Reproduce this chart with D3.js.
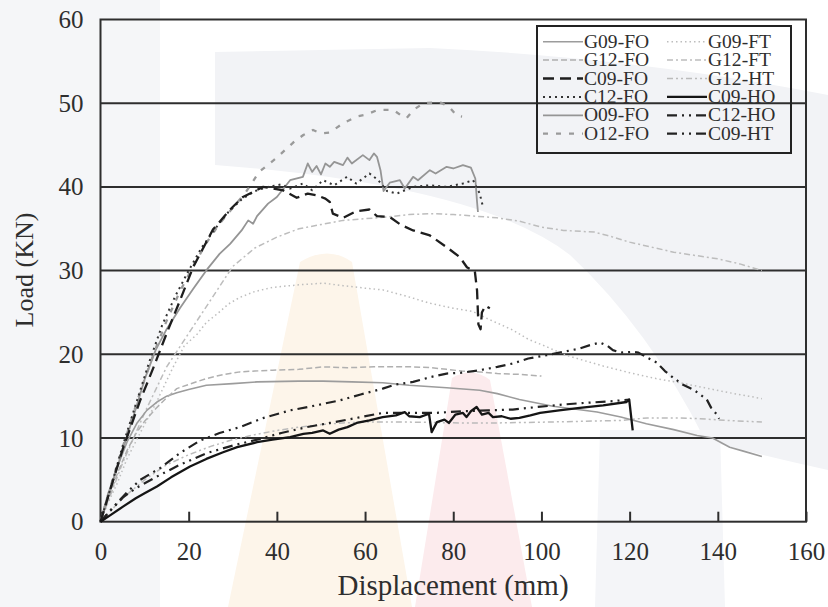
<!DOCTYPE html>
<html><head><meta charset="utf-8">
<script src="https://cdn.jsdelivr.net/npm/d3@7/dist/d3.min.js"></script>
<style>html,body{margin:0;padding:0;background:#fff;}svg{display:block;}</style>
</head><body>
<svg id="chart" width="828" height="607"></svg>
<script>
// ---------- data (displacement mm, load kN) ----------
const xTicks = [0,20,40,60,80,100,120,140,160];
const yTicks = [0,10,20,30,40,50,60];
const gridValues = [10,20,30,40,50];

const G09_FO = [[0,0],[1.5,3],[3.8,6.5],[6,9.5],[8.3,11.8],[10.5,13.3],[12.8,14.3],[15,15],[17.3,15.4],[20,15.8],[24,16.3],[30,16.5],[35.5,16.7],[45,16.8],[50.5,16.8],[57,16.7],[64,16.6],[70,16.3],[78.5,16],[86,15.7],[90,15.3],[95,14.6],[102.6,13.8],[107,13.5],[112.6,13.1],[118,12.5],[123.8,11.7],[130,11],[135.3,10.3],[138.8,10],[142.7,8.9],[146,8.4],[150,7.8]];
const G12_FO = [[0,0],[2,3],[4,6],[6,8.5],[8,10.5],[10,12],[12.5,13.5],[15,14.8],[17.3,15.9],[20,16.4],[24,17.1],[28,17.6],[31.6,17.9],[35,18],[39,18.1],[45,18.2],[50.5,18.5],[56,18.4],[62,18.5],[66,18.5],[71,18.5],[75,18.4],[78.5,18.2],[82,18],[86,17.9],[90,17.7],[95,17.6],[100,17.4]];
const C09_FO = [[0,0],[2.2,3.8],[5,8.6],[9,14.5],[12,18.4],[15,22.5],[18,26.4],[21,30.4],[25.5,34.9],[29.4,37.3],[32.3,38.8],[36.9,40],[41.4,39.6],[44.5,38.7],[47,39.2],[49,39],[51,38.6],[52,38.2],[52.7,36.8],[55,36.3],[58,37.1],[61,37.3],[62.7,36.5],[65.6,36.4],[68,35.5],[70.9,34.8],[74.7,34.2],[78.5,32.8],[81.5,31.6],[83.1,30.4],[84.9,29.9],[85.4,27.6],[85.7,23.6],[86.2,23],[86.5,25],[87.3,25.8],[88.3,25.5]];
const C12_FO = [[0,0],[2,3.5],[5,9],[8,14],[11,19],[14,23.5],[17,27],[20,30],[23,32.8],[26,35],[29,37],[32,38.5],[35,39.5],[38,40],[41,40.3],[43,39.8],[45.9,40.4],[48,39.6],[50.5,40.8],[53,40.2],[55.9,41.2],[58,40.4],[61,41.6],[63,40.8],[65,39.5],[67.2,39.2],[70.9,40],[74.7,40.2],[78.5,40],[82.2,40.4],[84.5,40.8],[86,39.2],[86.8,37.5]];
const O09_FO = [[0,0],[2,3.5],[5,8.5],[8,13.5],[10,17],[12.5,20.5],[15,23],[18,25.5],[21,27.8],[24.4,30.3],[27,32],[29.4,33.2],[32,34.8],[33.5,36],[34.6,35.6],[35.5,36.5],[38,38],[40,38.8],[43,40.8],[45.9,41.2],[47,42.8],[48,41.8],[49,42.5],[50,41.5],[51,42.8],[52,42.4],[53,43],[55,42.6],[56,43.5],[57,42.8],[59.5,43.8],[61,43.2],[62,44],[62.7,43.6],[63.5,42],[64.2,39.5],[65.6,40.5],[67.9,40.8],[69,39.8],[70.9,41.2],[72,40.8],[74.7,42],[76,41.6],[78.5,42.4],[80,42.2],[82.2,42.6],[84,42.3],[85,41],[85.4,38.2],[85.6,37]];
const O12_FO = [[0,0],[3,5.5],[6,10.5],[9,15.5],[12,20],[15,24],[18,27.5],[21,30.5],[24,33.3],[27,35.6],[30,37.5],[33,39.4],[36,41.8],[40,43.5],[43.7,45.3],[46,46.2],[48.2,46.8],[50,46.4],[52,46.5],[55,47.6],[58.1,48.4],[60,48.6],[62.9,49.2],[66.4,49.2],[68,48.6],[69.4,48.2],[71,49.2],[73.2,50],[77,50.1],[79,49.6],[80.8,48.5],[82,48.4]];
const G09_FT = [[0,0],[1.5,2],[3.8,4.6],[6,7.5],[9,10.6],[12.8,14.4],[16.4,18.4],[19,21],[21.9,22.4],[24,23.8],[26.4,24.8],[29,26],[31.6,26.8],[35,27.5],[39.1,28],[45,28.3],[50.5,28.5],[55,28.2],[60,27.9],[64,27.7],[69,27],[74.7,26.1],[80,25.5],[84.5,25.1],[88,24.2],[93.5,22.9],[97,21.8],[101.2,20.9],[105,20],[108.7,19.4],[114,18.6],[120,17.8],[126,17.1],[131.4,16.6],[137,16],[142.7,15.4],[147,15],[150,14.7]];
const G12_FT = [[0,0],[5,7],[10,13],[15,18.5],[20,22.5],[25,26.5],[30,30.5],[35,32.7],[40,34],[45,35],[50,35.5],[55,36],[60,36.2],[65,36.4],[70,36.7],[75,36.8],[80,36.7],[85,36.5],[90,36.3],[95,35.9],[100,35.2],[105,34.8],[112,34.6],[115,34.2],[120,33.4],[125,32.8],[130,32.2],[135,31.8],[140,31.4],[145,30.8],[150,30.0]];
const G12_HT = [[0,0],[5,2.8],[10,5],[15,6.8],[20,8],[25,9],[30,9.8],[35,10.4],[40,10.9],[45,11.3],[50,11.6],[55,11.8],[60,11.9],[70,11.9],[82,11.8],[90,11.8],[101,11.9],[110,12],[118,12.1],[124,12.4],[131,12.4],[136,12.3],[142,12.1],[150,11.9]];
const C09_HO = [[0,0],[2,0.7],[5.1,1.8],[8,2.8],[10,3.4],[12.8,4.2],[16,5.3],[20.3,6.6],[24,7.5],[27.8,8.3],[31,8.9],[35.5,9.5],[39,9.8],[43,10.1],[46,10.5],[48,10.6],[50.5,10.9],[52,10.5],[54,11],[56,11.3],[58.1,11.8],[61,12.1],[64,12.5],[67,12.7],[69,13.1],[70,12.6],[72.4,12.5],[74.5,12.9],[75.1,10.7],[76.3,11.9],[78,12.2],[79,11.8],[80.5,12.8],[82.2,13],[83,12.5],[84,13.2],[85.3,13.7],[86.5,12.8],[88,13],[89,12.5],[91,12.6],[93,12.3],[95,12.4],[97.5,12.7],[99.7,13],[104,13.3],[108.7,13.6],[114,13.9],[119.3,14.3],[119.9,14.6],[120.7,10.9]];
const C12_HO = [[0,0],[3,1.8],[6,3.5],[9,5],[13.5,6.4],[18,8.2],[22.6,9.7],[27,10.6],[31.6,11.3],[37,12.4],[43,13.3],[48,13.8],[54.3,14.5],[59,15.2],[64,15.9],[67,16.4],[70.9,16.7],[75,17.3],[78.5,17.7],[82,17.8],[86,18.1],[90,18.5],[93.5,18.9],[97,19.5],[101.2,19.9],[105,20.3],[108.7,20.7],[111,21.1],[113.3,21.4],[115,21],[116.2,20.5],[118,20.2],[120.7,20.3],[122,20.2],[124,19.6],[126.2,19],[128,18],[129.9,17.2],[132,16.4],[134.4,15.8],[136,15.2],[137.5,14.6],[138.5,13.6],[139.8,12.8],[140.3,12.3]];
const C09_HT = [[0,0],[2,1.2],[5.1,2.9],[8,4],[12.8,5.4],[18,6.8],[24.1,8.2],[30,9.1],[35.5,9.8],[41,10.6],[46.8,11.3],[52,11.8],[58.1,12.4],[64,13],[70,13],[76,13],[82.2,13.2],[88,13.3],[93.5,13.4],[99,13.7],[104.9,14],[110,14.2],[116.2,14.4],[120,14.6]];

const seriesNames = ["G09-FO","G12-FO","C09-FO","C12-FO","O09-FO","O12-FO","G09-FT","G12-FT","G12-HT","C09-HO","C12-HO","C09-HT"];
const seriesData = [G09_FO,G12_FO,C09_FO,C12_FO,O09_FO,O12_FO,G09_FT,G12_FT,G12_HT,C09_HO,C12_HO,C09_HT];

// ---------- styles ----------
const styles = {
  "G09-FO": {c:"#9c9c9c", w:1.6, d:null},
  "G12-FO": {c:"#b0b0b0", w:1.5, d:"6,3"},
  "C09-FO": {c:"#1e1e1e", w:2.3, d:"11,6"},
  "C12-FO": {c:"#333", w:2, d:"2,4"},
  "O09-FO": {c:"#959595", w:1.8, d:null},
  "O12-FO": {c:"#9a9a9a", w:2.3, d:"5,8"},
  "G09-FT": {c:"#bdbdbd", w:1.5, d:"1.5,3"},
  "G12-FT": {c:"#bdbdbd", w:1.5, d:"6,3,2,3"},
  "G12-HT": {c:"#bbbbbb", w:1.5, d:"6,3,2,3,2,3"},
  "C09-HO": {c:"#151515", w:2.3, d:null},
  "C12-HO": {c:"#222", w:2.2, d:"10,5,2,5,2,5"},
  "C09-HT": {c:"#222", w:2.2, d:"10,5,2,5,2,5"}
};

const svg = d3.select("#chart");
const x = d3.scaleLinear().domain([0,160]).range([100.5,806]);
const y = d3.scaleLinear().domain([0,60]).range([521.7,19.5]);
const serif = "'Liberation Serif','Times New Roman',serif";
const ink = "#2e2e2e";

// ---------- faint watermark background ----------
const wm = svg.append("g");
wm.append("rect").attr("x",0).attr("y",0).attr("width",160).attr("height",607).attr("fill","#f5f6f8");
wm.append("path").attr("d","M215,52 L430,48 Q640,58 828,95 L828,470 Q760,455 705,440 Q650,330 570,255 Q480,185 215,165 Z").attr("fill","#f2f3f6");
wm.append("path").attr("d","M300,262 Q328,245 352,262 L412,607 L228,607 Z").attr("fill","#fdf5ea");
wm.append("path").attr("d","M452,378 Q472,366 490,380 L532,607 L415,607 Z").attr("fill","#fcebed");
wm.append("path").attr("d","M600,430 L720,430 L725,607 L595,607 Z").attr("fill","#f4f5f8");

// ---------- grid and frame ----------
svg.append("g").selectAll("line").data(gridValues).join("line")
  .attr("x1",x(0)).attr("x2",x(160)).attr("y1",d=>y(d)).attr("y2",d=>y(d))
  .attr("stroke",ink).attr("stroke-width",2);
svg.append("rect").attr("x",x(0)).attr("y",y(60)).attr("width",x(160)-x(0)).attr("height",y(0)-y(60))
  .attr("fill","none").attr("stroke",ink).attr("stroke-width",2);

// ---------- axes ----------
const xAxis = svg.append("g").attr("transform",`translate(0,${y(0)})`)
  .call(d3.axisBottom(x).tickValues(xTicks).tickSizeInner(-10).tickSizeOuter(0).tickPadding(21));
xAxis.select(".domain").remove();
xAxis.selectAll("line").attr("stroke",ink).attr("stroke-width",2);
xAxis.selectAll("text").attr("font-family",serif).attr("font-size",25).attr("fill",ink);

const yAxis = svg.append("g").attr("transform",`translate(${x(0)},0)`)
  .call(d3.axisLeft(y).tickValues(yTicks).tickSize(0).tickPadding(17));
yAxis.select(".domain").remove();
yAxis.selectAll("text").attr("font-family",serif).attr("font-size",25).attr("fill",ink);

svg.append("text").attr("x",453).attr("y",595).attr("text-anchor","middle")
  .attr("font-family",serif).attr("font-size",29).attr("fill",ink).text("Displacement (mm)");
svg.append("text").attr("transform","translate(33,270) rotate(-90)").attr("text-anchor","middle")
  .attr("font-family",serif).attr("font-size",26).attr("fill",ink).text("Load (KN)");

// ---------- curves ----------
const line = d3.line().x(d=>x(d[0])).y(d=>y(d[1]));
const order = [6,7,8,0,1,4,5,3,2,11,10,9];
svg.append("g").selectAll("path").data(order).join("path")
  .attr("d",i=>line(seriesData[i]))
  .attr("fill","none")
  .attr("stroke",i=>styles[seriesNames[i]].c)
  .attr("stroke-width",i=>styles[seriesNames[i]].w)
  .attr("stroke-dasharray",i=>styles[seriesNames[i]].d)
  .attr("stroke-linejoin","round");

// ---------- legend ----------
const lg = svg.append("g");
lg.append("rect").attr("x",537).attr("y",26).attr("width",254).attr("height",127)
  .attr("fill","none").attr("stroke","#222").attr("stroke-width",2);
seriesNames.forEach((name,i)=>{
  const col = i < 6 ? 0 : 1, row = i % 6;
  const lx = col===0 ? 543 : 667;
  const cy = 41.7 + row*18.4;
  const s = styles[name];
  lg.append("line").attr("x1",lx).attr("x2",lx+40).attr("y1",cy).attr("y2",cy)
    .attr("stroke",s.c).attr("stroke-width",s.w).attr("stroke-dasharray",s.d);
  lg.append("text").attr("transform",`translate(${lx+41},${cy}) scale(1.15,1.05)`)
    .attr("dominant-baseline","central").attr("font-family",serif).attr("font-size",17)
    .attr("fill",ink).text(name);
});
</script>
</body></html>
